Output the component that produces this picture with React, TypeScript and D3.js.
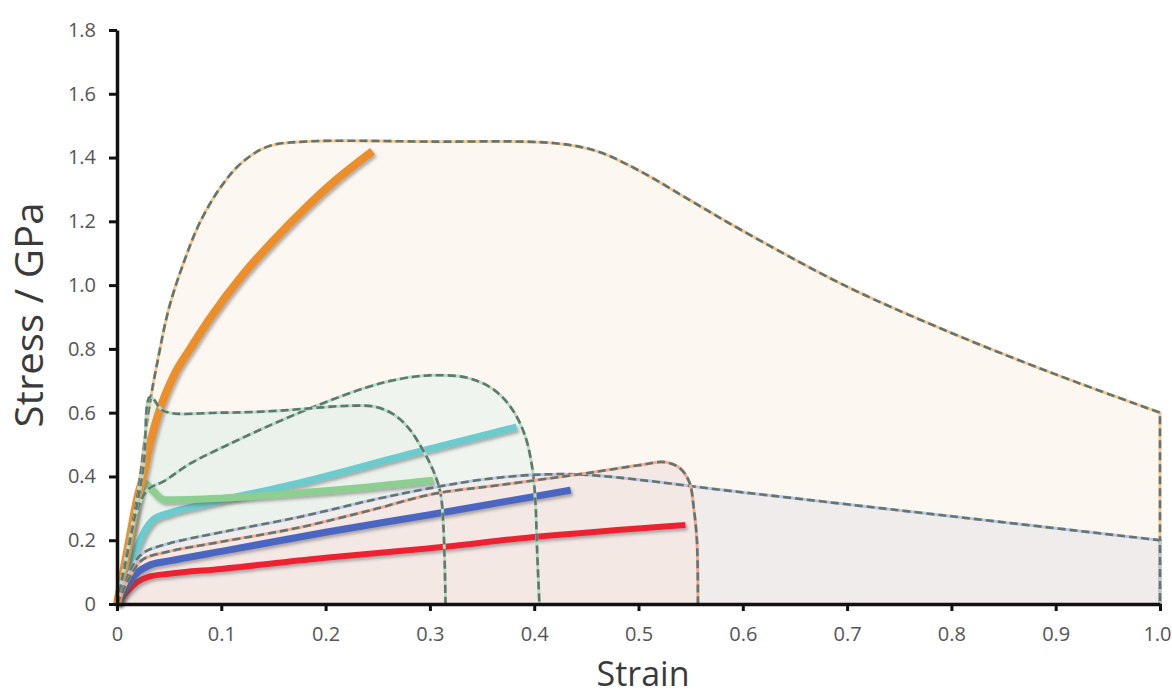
import React, { useRef, useEffect } from "react";
import * as d3 from "d3";

// tick labels
const xTicks = [0, 0.1, 0.2, 0.3, 0.4, 0.5, 0.6, 0.7, 0.8, 0.9, 1.0];
const xTickLabels = ["0", "0.1", "0.2", "0.3", "0.4", "0.5", "0.6", "0.7", "0.8", "0.9", "1.0"];
const yTicks = [0, 0.2, 0.4, 0.6, 0.8, 1.0, 1.2, 1.4, 1.6, 1.8];
const yTickLabels = ["0", "0.2", "0.4", "0.6", "0.8", "1.0", "1.2", "1.4", "1.6", "1.8"];

// envelopes (strain, stress)
const bigEnvelope = [[0, 0], [0.02, 0.35], [0.03, 0.6], [0.04, 0.78], [0.05, 0.93], [0.065, 1.08], [0.08, 1.2], [0.1, 1.31], [0.12, 1.385], [0.145, 1.435], [0.18, 1.45], [0.3, 1.45], [0.42, 1.445], [0.46, 1.42], [0.5, 1.36], [0.55, 1.265], [0.6, 1.17], [0.7, 0.995], [0.8, 0.85], [0.9, 0.72], [1.0, 0.6], [1.0, 0]];
const envelopeA = [[0, 0], [0.025, 0.42], [0.032, 0.65], [0.045, 0.605], [0.1, 0.6], [0.15, 0.605], [0.19, 0.615], [0.225, 0.622], [0.248, 0.618], [0.265, 0.595], [0.28, 0.55], [0.292, 0.49], [0.303, 0.42], [0.31, 0.35], [0.313, 0.24], [0.315, 0]];
const envelopeB = [[0, 0], [0.02, 0.3], [0.03, 0.36], [0.045, 0.385], [0.07, 0.44], [0.11, 0.505], [0.15, 0.565], [0.19, 0.62], [0.24, 0.68], [0.27, 0.705], [0.3, 0.717], [0.335, 0.71], [0.36, 0.675], [0.378, 0.615], [0.391, 0.53], [0.398, 0.43], [0.401, 0.33], [0.403, 0.15], [0.405, 0]];
const envelopeGrey = [[0, 0], [0.015, 0.12], [0.025, 0.16], [0.05, 0.19], [0.1, 0.225], [0.175, 0.273], [0.25, 0.33], [0.303, 0.365], [0.35, 0.39], [0.4, 0.405], [0.45, 0.405], [0.6, 0.35], [0.8, 0.275], [1.0, 0.2], [1.0, 0]];
const envelopeRed = [[0, 0], [0.015, 0.1], [0.025, 0.14], [0.05, 0.165], [0.1, 0.195], [0.175, 0.24], [0.25, 0.3], [0.303, 0.345], [0.367, 0.373], [0.45, 0.41], [0.5, 0.435], [0.525, 0.445], [0.54, 0.425], [0.549, 0.38], [0.553, 0.3], [0.556, 0.2], [0.557, 0]];

// stress-strain curves
const orangeCurve = [[0, 0], [0.01, 0.17], [0.02, 0.34], [0.025, 0.4], [0.03, 0.48], [0.04, 0.6], [0.055, 0.72], [0.07, 0.8], [0.09, 0.9], [0.12, 1.03], [0.15, 1.14], [0.18, 1.24], [0.21, 1.33], [0.245, 1.42]];
const greenCurve = [[0, 0.01], [0.01, 0.15], [0.02, 0.32], [0.026, 0.38], [0.033, 0.36], [0.045, 0.327], [0.1, 0.332], [0.2, 0.355], [0.303, 0.388]];
const cyanCurve = [[0, 0], [0.015, 0.14], [0.025, 0.22], [0.035, 0.265], [0.05, 0.285], [0.08, 0.31], [0.175, 0.38], [0.28, 0.47], [0.383, 0.555]];
const blueCurve = [[0, 0], [0.01, 0.06], [0.02, 0.1], [0.03, 0.12], [0.05, 0.135], [0.1, 0.165], [0.2, 0.225], [0.3, 0.28], [0.435, 0.357]];
const redCurve = [[0, 0], [0.01, 0.04], [0.02, 0.07], [0.03, 0.085], [0.05, 0.095], [0.1, 0.11], [0.2, 0.145], [0.3, 0.175], [0.4, 0.21], [0.545, 0.248]];

const W = 1172;
const H = 697;

const x = d3.scaleLinear().domain([0, 1]).range([117, 1160]);
const y = d3.scaleLinear().domain([0, 1.8]).range([604, 30]);

const envLine = d3.line<number[]>()
  .x(d => x(d[0]))
  .y(d => y(d[1]))
  .curve(d3.curveCatmullRom.alpha(0.5));

const curveLine = d3.line<number[]>()
  .x(d => x(d[0]))
  .y(d => y(d[1]))
  .curve(d3.curveMonotoneX);

// straightEnd: last point joined with a straight segment (vertical edge at strain 1.0)
function envPath(data: number[][], straightEnd: boolean) {
  if (!straightEnd) return envLine(data) || "";
  const last = data[data.length - 1];
  return (envLine(data.slice(0, -1)) || "") + `L${x(last[0])},${y(last[1])}`;
}

const envelopes = [
  { data: bigEnvelope, fill: "#fdf7f1", under: "#f4c893", straight: true },
  { data: envelopeB, fill: "#eff4ef", under: "#b3dfc6", straight: false },
  { data: envelopeA, fill: "#ebf1eb", under: "#b3dfc6", straight: false },
  { data: envelopeGrey, fill: "#efeceb", under: "#bcc6e2", straight: true },
  { data: envelopeRed, fill: "#f4e8e5", under: "#f2ab93", straight: false },
];

const curves = [
  { data: redCurve, color: "#ec2430", w: 6 },
  { data: blueCurve, color: "#4c66c0", w: 7 },
  { data: cyanCurve, color: "#6ccbcd", w: 7 },
  { data: greenCurve, color: "#8ccf90", w: 7 },
  { data: orangeCurve, color: "#ec8e2c", w: 8 },
];

export default function App() {
  const xAxisRef = useRef<SVGGElement>(null);
  const yAxisRef = useRef<SVGGElement>(null);

  useEffect(() => {
    const xAxis = d3.axisBottom(x)
      .tickValues(xTicks)
      .tickFormat((d, i) => xTickLabels[i])
      .tickSize(7)
      .tickSizeOuter(0)
      .tickPadding(16);
    const gx = d3.select(xAxisRef.current).call(xAxis as any);

    const yAxis = d3.axisLeft(y)
      .tickValues(yTicks)
      .tickFormat((d, i) => yTickLabels[i])
      .tickSize(8)
      .tickSizeOuter(0)
      .tickPadding(13);
    const gy = d3.select(yAxisRef.current).call(yAxis as any);

    [gx, gy].forEach(g => {
      g.select(".domain").attr("stroke", "#111").attr("stroke-width", 3.5);
      g.selectAll(".tick line").attr("stroke", "#111").attr("stroke-width", 3);
      g.selectAll(".tick text")
        .attr("fill", "#555")
        .style("font-family", "'Open Sans', 'Noto Sans', sans-serif")
        .style("font-size", "20px");
    });
    // last x label sits at the right edge
    gx.selectAll(".tick text").filter((d, i) => i === xTicks.length - 1)
      .attr("text-anchor", "end").attr("x", 11);
  }, []);

  return (
    <svg width={W} height={H} style={{ position: "absolute", left: 0, top: 0, background: "#fff" }}>
      <defs>
        <filter id="shadow" x="-10%" y="-10%" width="130%" height="130%">
          <feDropShadow dx="2" dy="2.5" stdDeviation="1.6" floodColor="#555" floodOpacity="0.45" />
        </filter>
      </defs>

      {envelopes.map((e, i) => (
        <path key={"f" + i} d={envPath(e.data, e.straight) + "Z"} fill={e.fill} stroke="none" />
      ))}

      {curves.map((c, i) => (
        <path key={"c" + i} d={curveLine(c.data as any) || ""} fill="none" stroke={c.color}
          strokeWidth={c.w} strokeLinejoin="round" filter="url(#shadow)" />
      ))}

      {envelopes.map((e, i) => (
        <g key={"o" + i}>
          <path d={envPath(e.data, e.straight)} fill="none" stroke={e.under} strokeWidth={3} />
          <path d={envPath(e.data, e.straight)} fill="none" stroke="#62766e" strokeWidth={2.6}
            strokeDasharray="8 4" />
        </g>
      ))}

      <g ref={xAxisRef} transform={`translate(0,${y(0)})`} />
      <g ref={yAxisRef} transform={`translate(${x(0)},0)`} />

      <text x={643} y={686} textAnchor="middle" fill="#3a3a3a"
        style={{ fontFamily: "'Open Sans', 'Noto Sans', sans-serif", fontSize: 34 }}>Strain</text>
      <text transform="translate(43,315) rotate(-90)" textAnchor="middle" fill="#3a3a3a"
        textLength={225} lengthAdjust="spacingAndGlyphs"
        style={{ fontFamily: "'Open Sans', 'Noto Sans', sans-serif", fontSize: 38 }}>Stress / GPa</text>
    </svg>
  );
}
